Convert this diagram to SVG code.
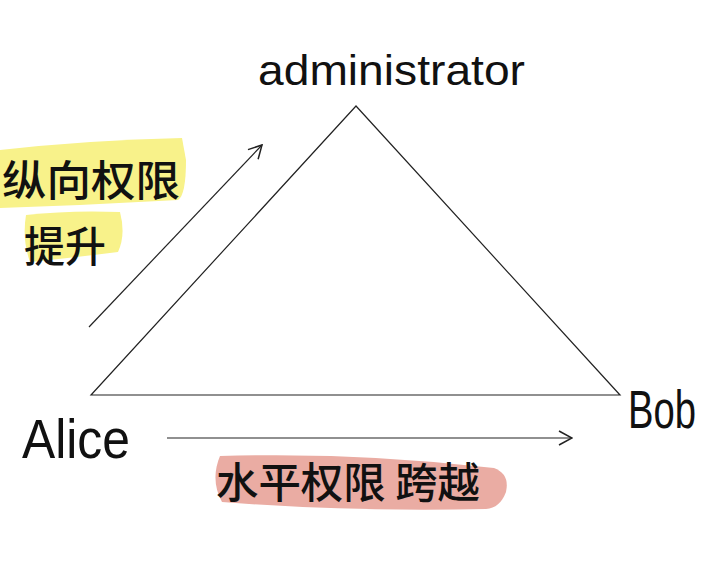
<svg xmlns="http://www.w3.org/2000/svg" width="725" height="565" viewBox="0 0 725 565">
<style>
.hw{font-family:"Liberation Sans","DejaVu Sans",sans-serif;fill:#111;}
.cjk{font-family:"Noto Sans CJK SC","Noto Sans CJK JP",sans-serif;fill:#111;font-weight:500;}
.ln{stroke:#222;stroke-width:1.2;fill:none;}
</style>
<defs>
<marker id="ah" viewBox="0 0 16 16" refX="15" refY="8" markerWidth="16" markerHeight="16" markerUnits="userSpaceOnUse" orient="auto">
<path d="M2,1 L15,8 L2,15" fill="none" stroke="#222" stroke-width="1.5"/>
</marker>
</defs>
<rect width="725" height="565" fill="#fff"/>
<g id="highlights">
<path d="M0,150 Q90,140 182,138 L186,160 Q186,195 178,200 Q90,205 0,208 Z" fill="#f8f28a"/>
<path d="M26,215 Q70,210 120,212 Q126,235 118,252 Q70,258 30,262 Q22,240 26,215 Z" fill="#f8f28a"/>
<path d="M220,456 Q360,452 494,468 Q510,474 506,492 Q500,508 486,509 Q350,512 222,502 Q210,480 220,456 Z" fill="#eaaca3"/>
</g>
<g id="connectors">
<polygon class="ln" points="356,106 91,395 620,395"/>
<line class="ln" x1="89" y1="327" x2="262" y2="145" marker-end="url(#ah)"/>
<line class="ln" x1="167" y1="438" x2="572" y2="438" marker-end="url(#ah)"/>
</g>
<g id="admin"><text class="hw" x="258" y="85" font-size="42" textLength="267" lengthAdjust="spacingAndGlyphs">administrator</text></g>
<g id="alice"><text class="hw" x="22" y="458" font-size="56" textLength="108" lengthAdjust="spacingAndGlyphs">Alice</text></g>
<g id="bob"><text class="hw" x="628" y="428" font-size="54" textLength="68" lengthAdjust="spacingAndGlyphs">Bob</text></g>
<g id="vertical"><text class="cjk" x="2" y="196" font-size="42" textLength="178" lengthAdjust="spacingAndGlyphs">纵向权限</text>
<text class="cjk" x="24" y="262" font-size="42" textLength="82" lengthAdjust="spacingAndGlyphs">提升</text></g>
<g id="horizontal"><text class="cjk" x="216" y="498" font-size="42" textLength="264" lengthAdjust="spacingAndGlyphs">水平权限 跨越</text></g>
</svg>
